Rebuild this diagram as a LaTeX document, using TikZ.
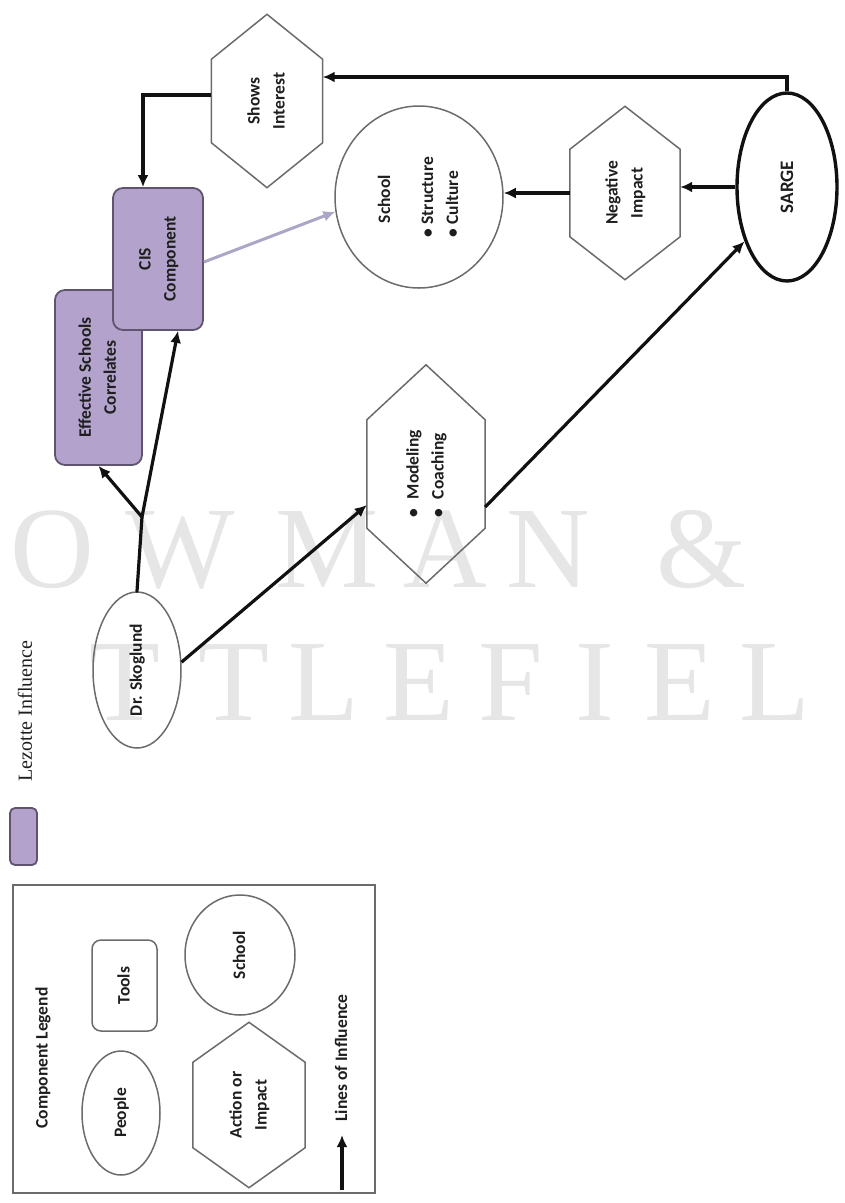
\documentclass[tikz,border=0pt]{standalone}
\usepackage{fontspec}
\usepackage{graphicx}
\setmainfont{Carlito}
\newfontfamily\serifwm{Liberation Serif}
\usetikzlibrary{shapes.geometric,arrows.meta}

\definecolor{lavender}{HTML}{B3A3CC}
\definecolor{lavedge}{HTML}{5E5470}
\definecolor{shapeline}{HTML}{6B6B6B}
\definecolor{inkline}{HTML}{111111}
\definecolor{faintlink}{HTML}{ABA6C6}
\definecolor{wmgray}{HTML}{E6E6E6}
\definecolor{txt}{HTML}{1E1E1E}

% text rotated to read bottom-to-top, lines centred
\newcommand\up[1]{\rotatebox{90}{\begin{tabular}{@{}c@{}}#1\end{tabular}}}
% hexagon with pointed top and bottom, drawn round a bare node
\newcommand\drawhex[2]{\draw[hexline] (#1.north) -- ([yshift=-#2pt]#1.north east) -- ([yshift=#2pt]#1.south east) -- (#1.south) -- ([yshift=#2pt]#1.south west) -- ([yshift=-#2pt]#1.north west) -- cycle;}

\tikzset{
  lbl/.style={font=\bfseries\fontsize{17.5}{25}\selectfont, text=txt, align=center},
  person/.style={ellipse, draw=shapeline, line width=1.5pt, inner sep=0pt},
  tool/.style={rectangle, rounded corners=10pt, draw=lavedge, fill=lavender, line width=1.8pt, inner sep=0pt},
  bare/.style={rectangle, inner sep=0pt},
  hexline/.style={draw=shapeline, line width=1.5pt, line join=miter},
  inflow/.style={draw=inkline, line width=3.2pt, -{Latex[length=12pt,width=11pt]}},
  bareline/.style={draw=inkline, line width=3.2pt, line cap=round},
  softlink/.style={draw=faintlink, line width=3pt, -{Latex[length=12pt,width=11pt]}},
  legendframe/.style={draw=shapeline, line width=2.4pt},
  wm/.style={font=\serifwm\fontsize{116}{116}\selectfont, text=wmgray, anchor=base, inner sep=0pt},
}

\begin{document}
\begin{tikzpicture}[x=1pt,y=-1pt]
\useasboundingbox (0,0) rectangle (844,1203);

% publisher watermark
\foreach \ch/\xx [count=\i] in {O/52, W/180, M/327, A/445, N/548, \&/702}
  \node[wm] (wma\i) at (\xx,587) {\ch};
\foreach \ch/\xx [count=\i] in {T/125, T/234, L/324, E/419, F/511, I/595, E/680, L/775}
  \node[wm] (wmb\i) at (\xx,720) {\ch};

% key for the purple boxes
\node[tool, rounded corners=5pt, minimum width=27pt, minimum height=57pt] (swatch) at (23.5,836.5) {};
\node[font=\serifwm\fontsize{20}{24}\selectfont, text=txt, inner sep=0pt] (lezotte) at (25,711) {\rotatebox{90}{Lezotte Influence}};

% people, tools, actions and the school
\node[person, minimum width=88pt, minimum height=156pt, lbl] (skog) at (137,670) {\up{Dr. Skoglund}};
\node[tool, minimum width=87pt, minimum height=175pt, lbl] (esc) at (98.5,377.5) {\up{Effective Schools\\Correlates}};
\node[tool, minimum width=90pt, minimum height=142pt, lbl] (cis) at (158,259) {\up{CIS\\Component}};
\node[bare, minimum width=111pt, minimum height=173pt, lbl] (shows) at (267,101) {\up{Shows\\Interest}};
\drawhex{shows}{45}
\node[person, minimum width=168pt, minimum height=182pt, lbl] (school) at (419,197)
  {\rotatebox{90}{\begin{tabular}{@{}l@{}}\hspace{14pt}School\\[18pt]\textbullet\hspace{4pt}Structure\\\textbullet\hspace{4pt}Culture\end{tabular}}};
\node[bare, minimum width=110pt, minimum height=173pt, lbl] (neg) at (625,193) {\up{Negative\\Impact}};
\drawhex{neg}{43}
\node[person, draw=inkline, line width=3.4pt, minimum width=100pt, minimum height=188pt, lbl, font=\bfseries\fontsize{19}{25}\selectfont] (sarge) at (787,187) {\rotatebox{90}{SARGE}};
\node[bare, minimum width=118pt, minimum height=218pt, lbl] (model) at (426,474)
  {\rotatebox{90}{\begin{tabular}{@{}l@{}}\textbullet\hspace{10pt}Modeling\\\textbullet\hspace{10pt}Coaching\end{tabular}}};
\drawhex{model}{55}

% lines of influence
\coordinate (junc) at (142,517);
\draw[bareline] (skog.north) -- (junc);
\draw[inflow] (junc) -- (esc.south);
\draw[inflow] (junc) -- ([xshift=20pt]cis.south);
\draw[inflow] (skog.10) -- ([yshift=-31pt]model.west);
\draw[inflow] ([yshift=-33pt]model.east) -- (sarge.232);
\draw[inflow] (sarge.west) -- (sarge.west -| neg.east);
\draw[inflow] (neg.west) -- (neg.west -| school.east);
\draw[inflow] (sarge.north) |- ([yshift=24pt]shows.east);
\draw[inflow] ([yshift=6pt]shows.west) -| ([xshift=-15pt]cis.north);
\draw[softlink] ([yshift=-3pt]cis.east) -- (school.190);

% component legend
\draw[legendframe] (13,885) rectangle (375,1193);
\node[lbl] (legtitle) at (43,1058) {\rotatebox{90}{Component Legend}};
\node[person, minimum width=78pt, minimum height=124pt, lbl] (people) at (121,1113) {\up{People}};
\node[rectangle, rounded corners=9pt, draw=shapeline, line width=1.5pt, inner sep=0pt, minimum width=65pt, minimum height=91pt, lbl] (tools) at (124.5,985.5) {\up{Tools}};
\node[person, minimum width=110pt, minimum height=120pt, lbl] (lschool) at (240,955) {\up{School}};
\node[bare, minimum width=112pt, minimum height=165pt, lbl] (action) at (249,1105) {\up{Action or\\Impact}};
\drawhex{action}{40}
\node[lbl] (lines) at (342,1058) {\up{Lines of Influence}};
\coordinate (keyfoot) at (342,1190);
\coordinate (keytip) at (342,1135);
\draw[inflow] (keyfoot) -- (keytip);
\end{tikzpicture}
\end{document}
